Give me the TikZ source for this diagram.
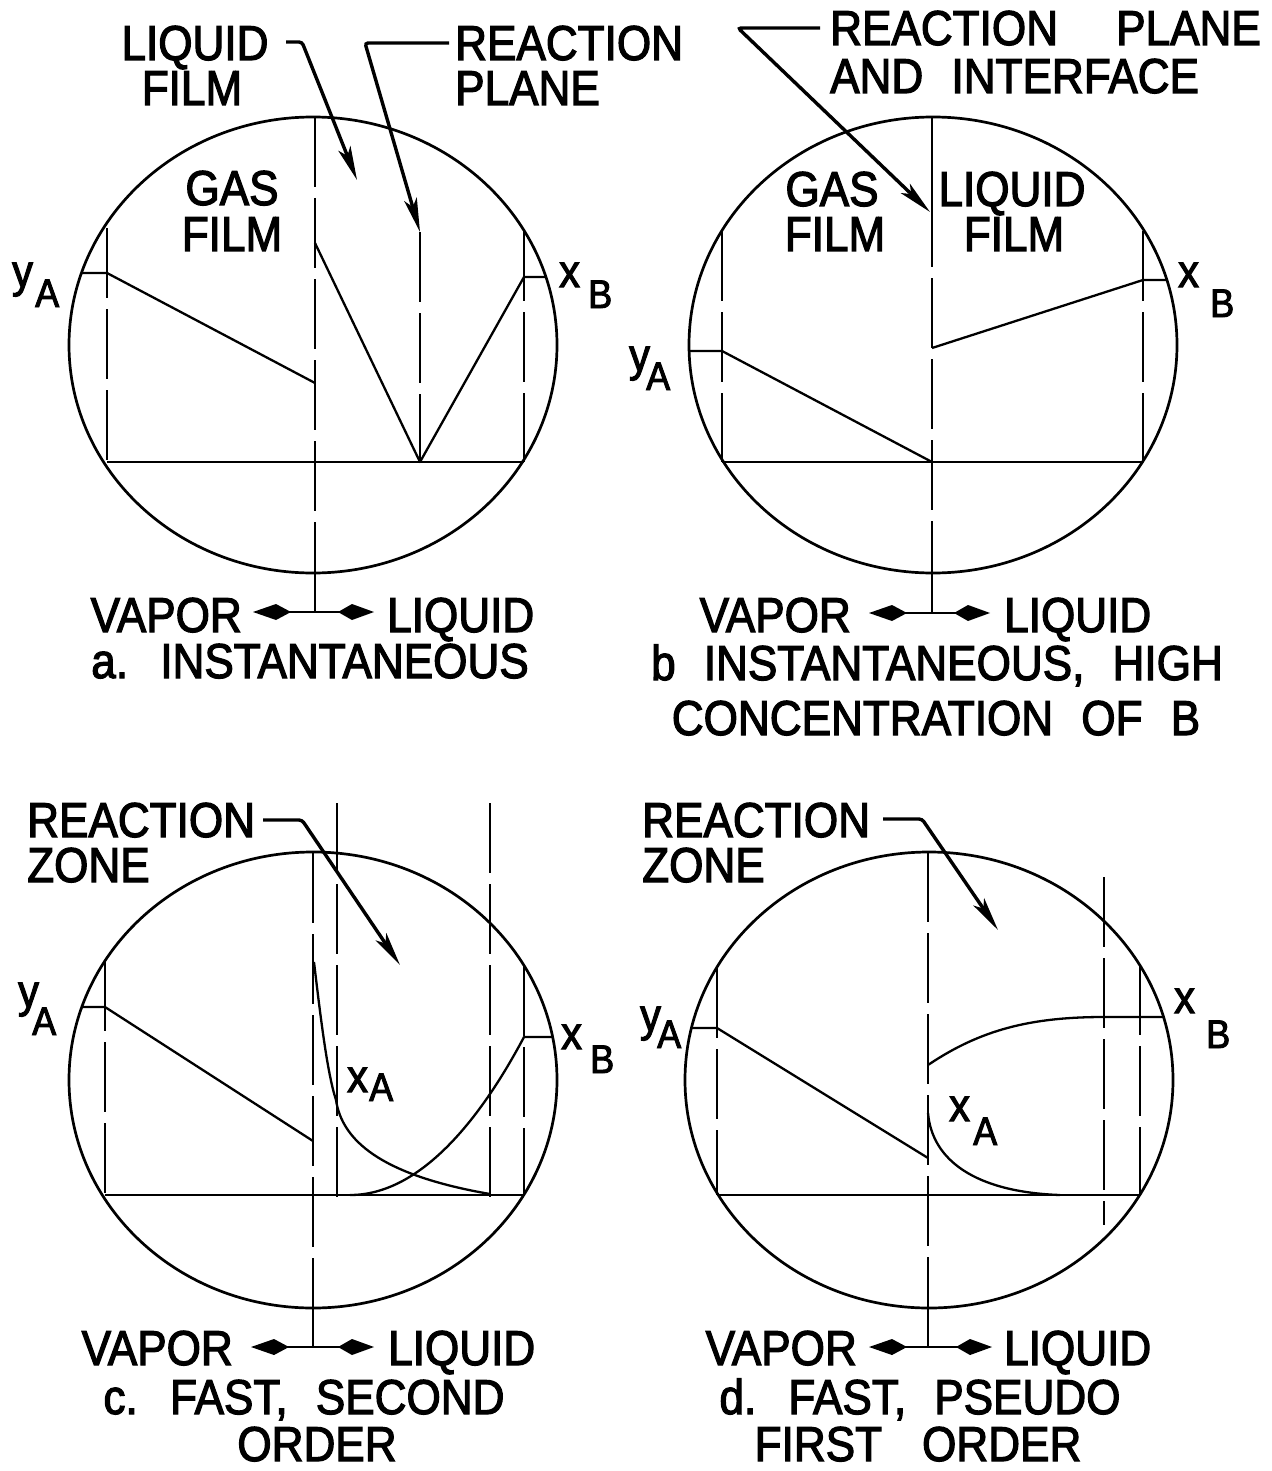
\documentclass[tikz,border=0pt]{standalone}
\usepackage{fontspec}
\setmainfont{Liberation Sans}[FakeStretch=0.9, FakeBold=2.4, WordSpace=2.3]
\usetikzlibrary{arrows.meta}
\begin{document}
\begin{tikzpicture}[x=1pt,y=-1pt,
  lbl/.style={inner sep=0pt, text height=35pt, text depth=0pt, font=\fontsize{49}{49}\selectfont},
  var/.style={inner sep=0pt, anchor=base west, text height=24pt, text depth=0pt, font=\fontsize{46}{46}\selectfont},
  subl/.style={inner sep=0pt, anchor=base west, text height=28pt, text depth=0pt, font=\fontsize{40}{40}\selectfont},
  rim/.style={line width=2.7pt},
  film/.style={line width=2.4pt, dash pattern=on 70pt off 11pt},
  solidv/.style={line width=2.4pt},
  prof/.style={line width=2.3pt, line join=round},
  lead/.style={line width=3.4pt, rounded corners=3pt, -{Stealth[length=34pt,width=13pt,inset=8pt]}},
  dirarr/.style={line width=2.6pt, {Kite[length=38pt,width=16pt,inset=15pt]}-{Kite[length=36pt,width=16pt,inset=14pt]}},
]
\useasboundingbox (0,0) rectangle (1271,1471);

%================ panel a ================
\coordinate (a-c) at (313,345);
\draw[rim] (a-c) ellipse [x radius=244pt, y radius=228pt];
\coordinate (a-l1) at (107,228); \coordinate (a-l2) at (107,462);
\coordinate (a-r1) at (524,231); \coordinate (a-r2) at (524,462);
\coordinate (a-i1) at (315,117); \coordinate (a-i2) at (315,573); \coordinate (a-i3) at (315,612);
\coordinate (a-p1) at (420,232); \coordinate (a-p2) at (420,462);
\coordinate (a-y0) at (82,273);  \coordinate (a-y1) at (107,273); \coordinate (a-y2) at (315,383);
\coordinate (a-x1) at (315,243); \coordinate (a-x2) at (524,277); \coordinate (a-x3) at (546,277);
\draw[film] (a-l1) -- (a-l2);
\draw[film] (a-r1) -- (a-r2);
\draw[film] (a-i1) -- (a-i2);
\draw[solidv] (a-i2) -- (a-i3);
\draw[film] (a-p1) -- (a-p2);
\draw[prof] (a-l2) -- (a-r2);
\draw[prof] (a-y0) -- (a-y1) -- (a-y2);
\draw[prof] (a-x1) -- (a-p2) -- (a-x2) -- (a-x3);
\node[lbl, anchor=base] (a-t1) at (195,60) {LIQUID};
\node[lbl, anchor=base] (a-t2) at (192,105) {FILM};
\node[lbl, anchor=base west] (a-t3) at (455,60) {REACTION};
\node[lbl, anchor=base west] (a-t4) at (455,105) {PLANE};
\node[lbl, anchor=base] (a-t5) at (232,205) {GAS};
\node[lbl, anchor=base] (a-t6) at (232,251) {FILM};
\coordinate (a-k1) at (286,42); \coordinate (a-k2) at (302,42); \coordinate (a-k3) at (357,180);
\draw[lead] (a-k1) -- (a-k2) -- (a-k3);
\coordinate (a-m1) at (449,43); \coordinate (a-m2) at (365,43);
\draw[lead] (a-m1) -- (a-m2) -- (a-p1);
\node[var] (a-yv) at (12,287) {y};
\node[subl] (a-ys) at (35,307) {A};
\node[var] (a-xv) at (559,287) {x};
\node[subl] (a-xs) at (588,308) {B};
\node[lbl, anchor=base east] (a-vap) at (242,632) {VAPOR};
\node[lbl, anchor=base west] (a-liq) at (387,632) {LIQUID};
\coordinate (a-d1) at (253,612); \coordinate (a-d2) at (374,612);
\draw[dirarr] (a-d1) -- (a-d2);
\node[lbl, anchor=base] (a-cap) at (310,678) {a. INSTANTANEOUS};

%================ panel b ================
\coordinate (b-c) at (933,345);
\draw[rim] (b-c) ellipse [x radius=244pt, y radius=228pt];
\coordinate (b-l1) at (722,231); \coordinate (b-l2) at (722,462);
\coordinate (b-r1) at (1143,231); \coordinate (b-r2) at (1143,462);
\coordinate (b-i1) at (932,117); \coordinate (b-i1b) at (932,267); \coordinate (b-i1c) at (932,278);
\coordinate (b-i2) at (932,573); \coordinate (b-i3) at (932,613);
\coordinate (b-y0) at (689,351); \coordinate (b-y1) at (722,351); \coordinate (b-y2) at (932,462);
\coordinate (b-x1) at (932,348); \coordinate (b-x2) at (1143,280); \coordinate (b-x3) at (1167,280);
\draw[film] (b-l1) -- (b-l2);
\draw[film] (b-r1) -- (b-r2);
\draw[solidv] (b-i1) -- (b-i1b);
\draw[film] (b-i1c) -- (b-i2);
\draw[solidv] (b-i2) -- (b-i3);
\draw[prof] (b-l2) -- (b-r2);
\draw[prof] (b-y0) -- (b-y1) -- (b-y2);
\draw[prof] (b-x1) -- (b-x2) -- (b-x3);
\node[lbl, anchor=base west] (b-t1) at (830,45) {REACTION};
\node[lbl, anchor=base west] (b-t1b) at (1116,45) {PLANE};
\node[lbl, anchor=base west] (b-t2) at (830,93) {AND INTERFACE};
\node[lbl, anchor=base] (b-t3) at (832,206) {GAS};
\node[lbl, anchor=base] (b-t4) at (835,251) {FILM};
\node[lbl, anchor=base] (b-t5) at (1012,206) {LIQUID};
\node[lbl, anchor=base] (b-t6) at (1014,251) {FILM};
\coordinate (b-k1) at (820,28); \coordinate (b-k2) at (738,28); \coordinate (b-k3) at (930,212);
\draw[lead] (b-k1) -- (b-k2) -- (b-k3);
\node[var] (b-yv) at (629,371) {y};
\node[subl] (b-ys) at (646,390) {A};
\node[var] (b-xv) at (1178,287) {x};
\node[subl] (b-xs) at (1210,317) {B};
\node[lbl, anchor=base east] (b-vap) at (851,632) {VAPOR};
\node[lbl, anchor=base west] (b-liq) at (1004,632) {LIQUID};
\coordinate (b-d1) at (869,613); \coordinate (b-d2) at (990,613);
\draw[dirarr] (b-d1) -- (b-d2);
\node[lbl, anchor=base] (b-cap1) at (937,680) {b INSTANTANEOUS, HIGH};
\node[lbl, anchor=base] (b-cap2) at (936,735) {CONCENTRATION OF B};

%================ panel c ================
\coordinate (c-c) at (313,1080);
\draw[rim] (c-c) ellipse [x radius=244pt, y radius=228pt];
\coordinate (c-l1) at (105,961); \coordinate (c-l2) at (105,1195);
\coordinate (c-r1) at (524,966); \coordinate (c-r2) at (524,1195);
\coordinate (c-i1) at (313,853); \coordinate (c-i2) at (313,1308); \coordinate (c-i3) at (313,1347);
\coordinate (c-z1) at (337,803); \coordinate (c-z2) at (337,1207);
\coordinate (c-w1) at (490,803); \coordinate (c-w2) at (490,1202);
\coordinate (c-y0) at (82,1007); \coordinate (c-y1) at (105,1007); \coordinate (c-y2) at (313,1141);
\draw[film] (c-l1) -- (c-l2);
\draw[film] (c-r1) -- (c-r2);
\draw[film] (c-i1) -- (c-i2);
\draw[solidv] (c-i2) -- (c-i3);
\draw[film] (c-z1) -- (c-z2);
\draw[film] (c-w1) -- (c-w2);
\draw[prof] (c-l2) -- (c-r2);
\draw[prof] (c-y0) -- (c-y1) -- (c-y2);
\coordinate (c-a0) at (314,962); \coordinate (c-a1) at (336,1100); \coordinate (c-a2) at (490,1194);
\draw[prof] (c-a0) .. controls (322,1030) and (328,1075) .. (c-a1)
   .. controls (342,1140) and (380,1175) .. (c-a2);
\coordinate (c-b0) at (350,1195); \coordinate (c-b1) at (524,1037); \coordinate (c-b2) at (552,1037);
\draw[prof] (c-b0) .. controls (420,1195) and (480,1120) .. (c-b1) -- (c-b2);
\node[lbl, anchor=base west] (c-t1) at (27,837) {REACTION};
\node[lbl, anchor=base west] (c-t2) at (27,882) {ZONE};
\coordinate (c-k1) at (263,820); \coordinate (c-k2) at (302,820); \coordinate (c-k3) at (400,965);
\draw[lead] (c-k1) -- (c-k2) -- (c-k3);
\node[var] (c-yv) at (18,1007) {y};
\node[subl] (c-ys) at (32,1035) {A};
\node[var] (c-xv) at (561,1049) {x};
\node[subl] (c-xs) at (590,1073) {B};
\node[var] (c-av) at (347,1092) {x};
\node[subl] (c-as) at (369,1101) {A};
\node[lbl, anchor=base east] (c-vap) at (233,1365) {VAPOR};
\node[lbl, anchor=base west] (c-liq) at (388,1365) {LIQUID};
\coordinate (c-d1) at (251,1347); \coordinate (c-d2) at (374,1347);
\draw[dirarr] (c-d1) -- (c-d2);
\node[lbl, anchor=base] (c-cap1) at (304,1414) {c. FAST, SECOND};
\node[lbl, anchor=base] (c-cap2) at (317,1461) {ORDER};

%================ panel d ================
\coordinate (d-c) at (929,1080);
\draw[rim] (d-c) ellipse [x radius=244pt, y radius=228pt];
\coordinate (d-l1) at (717,968); \coordinate (d-l2) at (717,1195);
\coordinate (d-r1) at (1140,965); \coordinate (d-r2) at (1140,1195);
\coordinate (d-i1) at (928,852); \coordinate (d-i2) at (928,1308); \coordinate (d-i3) at (928,1347);
\coordinate (d-z1) at (1104,877); \coordinate (d-z2) at (1104,1225);
\coordinate (d-y0) at (692,1028); \coordinate (d-y1) at (717,1028); \coordinate (d-y2) at (928,1158);
\draw[film] (d-l1) -- (d-l2);
\draw[film] (d-r1) -- (d-r2);
\draw[film] (d-i1) -- (d-i2);
\draw[solidv] (d-i2) -- (d-i3);
\draw[film] (d-z1) -- (d-z2);
\draw[prof] (d-l2) -- (d-r2);
\draw[prof] (d-y0) -- (d-y1) -- (d-y2);
\coordinate (d-b0) at (928,1065); \coordinate (d-b1) at (1104,1017); \coordinate (d-b2) at (1164,1017);
\draw[prof] (d-b0) .. controls (980,1030) and (1030,1017) .. (d-b1) -- (d-b2);
\coordinate (d-a0) at (928,1113); \coordinate (d-a1) at (1060,1195);
\draw[prof] (d-a0) .. controls (932,1160) and (975,1192) .. (d-a1);
\node[lbl, anchor=base west] (d-t1) at (642,837) {REACTION};
\node[lbl, anchor=base west] (d-t2) at (642,882) {ZONE};
\coordinate (d-k1) at (883,819); \coordinate (d-k2) at (922,819); \coordinate (d-k3) at (998,930);
\draw[lead] (d-k1) -- (d-k2) -- (d-k3);
\node[var] (d-yv) at (640,1031) {y};
\node[subl] (d-ys) at (657,1048) {A};
\node[var] (d-xv) at (1174,1013) {x};
\node[subl] (d-xs) at (1206,1048) {B};
\node[var] (d-av) at (949,1121) {x};
\node[subl] (d-as) at (973,1145) {A};
\node[lbl, anchor=base east] (d-vap) at (857,1365) {VAPOR};
\node[lbl, anchor=base west] (d-liq) at (1004,1365) {LIQUID};
\coordinate (d-d1) at (869,1347); \coordinate (d-d2) at (992,1347);
\draw[dirarr] (d-d1) -- (d-d2);
\node[lbl, anchor=base] (d-cap1) at (920,1414) {d. FAST, PSEUDO};
\node[lbl, anchor=base] (d-cap2) at (918,1461) {FIRST\hspace{40pt}ORDER};
\end{tikzpicture}
\end{document}
